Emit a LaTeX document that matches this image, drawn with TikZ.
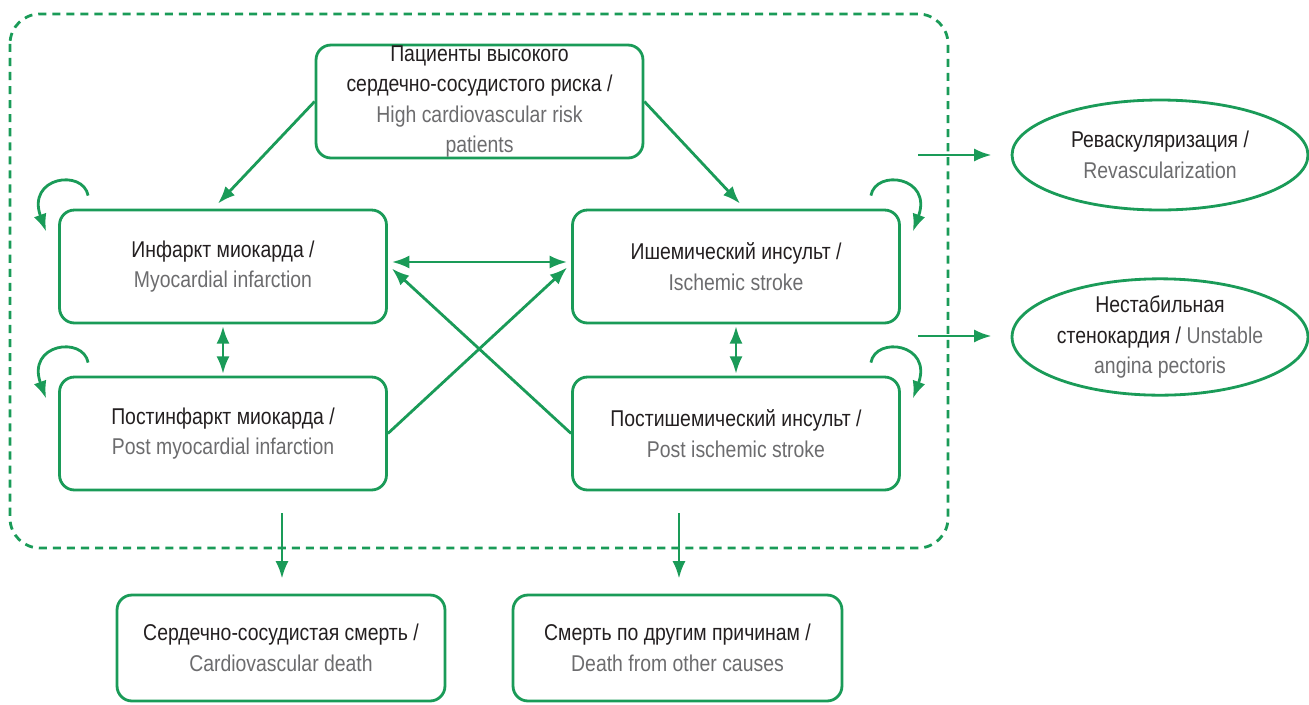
\documentclass[tikz,border=0pt]{standalone}
\usepackage{fontspec}
\setmainfont{Liberation Sans}[FakeStretch=0.85]
\usetikzlibrary{arrows.meta,shapes.geometric}

\definecolor{gruen}{RGB}{26,155,88}
\definecolor{grau}{RGB}{108,108,110}
\definecolor{tinte}{RGB}{35,31,32}

\tikzset{
	kasten/.style={draw=gruen,line width=1.6pt,rounded corners=8.5pt,
		minimum width=6.54cm,minimum height=2.26cm,inner sep=0pt,
		align=center,text=tinte},
	oval/.style={draw=gruen,line width=1.6pt,ellipse,
		minimum width=5.92cm,minimum height=2.2cm,inner sep=0pt,
		align=center,text=tinte},
}

\begin{document}
\begin{tikzpicture}[>={Latex[length=10pt,width=7.5pt]},x=0.02cm,y=-0.02cm,
	font=\fontsize{13}{17.3}\selectfont]

\useasboundingbox (0,0) rectangle (1309,704);

% Schleife an einer Ecke: #1 Knoten, #2 Ecke, #3 Seite (1 links, -1 rechts)
\def\schleife#1#2#3{
	\draw[->,draw=gruen,fill=none,line width=1.6pt]
		([shift={(#3*30,-13)}]#1.#2) .. controls ([shift={(#3*25,-40)}]#1.#2)
		and ([shift={(-#3*32,-32)}]#1.#2) .. ([shift={(-#3*12,23)}]#1.#2);
}

\draw[draw=gruen,line width=1.6pt,dash pattern=on 4.6pt off 3.4pt,rounded corners=17pt]
	(10,14) rectangle (948,548);

\node[kasten] (risk) at (479.5,101.5) {Пациенты высокого\\сердечно-сосудистого риска /\\
	\color{grau}High cardiovascular risk\\\color{grau}patients};

\node[kasten] (mi)  at (223,266.5) {Инфаркт миокарда /\\\color{grau}Myocardial infarction};
\node[kasten] (is)  at (736,266.5) {Ишемический инсульт /\\\color{grau}Ischemic stroke};
\node[kasten] (pmi) at (223,433.5) {Постинфаркт миокарда /\\\color{grau}Post myocardial infarction};
\node[kasten] (pis) at (736,433.5) {Постишемический инсульт /\\\color{grau}Post ischemic stroke};

\node[kasten,minimum width=6.56cm,minimum height=2.12cm] (cvd) at (281,648)
	{Сердечно-сосудистая смерть /\\\color{grau}Cardiovascular death};
\node[kasten,minimum width=6.58cm,minimum height=2.12cm] (od) at (677.5,648)
	{Смерть по другим причинам /\\\color{grau}Death from other causes};

\node[oval] (revasc) at (1160,155) {Реваскуляризация /\\\color{grau}Revascularization};
\node[oval] (ua) at (1160,337) {Нестабильная\\стенокардия / {\color{grau}Unstable}\\
	\color{grau}angina pectoris};

\begin{scope}[draw=gruen,line width=1.6pt]

\draw[->] (risk.west) -- ([shift={(-5,-5)}]mi.north);
\draw[->] (risk.east) -- ([shift={(4,-5)}]is.north);

\draw[<->] ([shift={(4,-4.5)}]mi.east) -- ([shift={(-4,-4.5)}]is.west);
\draw[->] (pmi.east) -- ([shift={(-4,1)}]is.west);
\draw[->] (pis.west) -- ([shift={(4,2)}]mi.east);

\draw[<->,shorten <=1pt,shorten >=1pt] (mi.south) -- (pmi.north);
\draw[<->,shorten <=1pt,shorten >=1pt] (is.south) -- (pis.north);

\coordinate (cvdein) at (282,513);
\coordinate (odein)  at (679,513);
\draw[->,shorten >=0.3cm] (cvdein) -- (cvdein |- cvd.north);
\draw[->,shorten >=0.3cm] (odein) -- (odein |- od.north);

\coordinate (revein) at (918,155);
\coordinate (uaein)  at (918,336);
\draw[->,shorten >=0.38cm] (revein) -- (revein -| revasc.west);
\draw[->,shorten >=0.38cm] (uaein) -- (uaein -| ua.west);

\end{scope}

\schleife{mi}{north west}{1}
\schleife{pmi}{north west}{1}
\schleife{is}{north east}{-1}
\schleife{pis}{north east}{-1}

\end{tikzpicture}
\end{document}
